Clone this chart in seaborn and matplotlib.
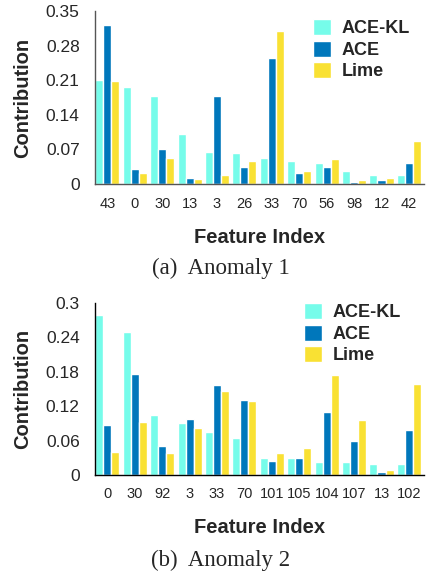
import matplotlib
matplotlib.use("Agg")
import matplotlib.pyplot as plt
import pandas as pd
import seaborn as sns

# Anomaly 1
features_a = ["43", "0", "30", "13", "3", "26", "33", "70", "56", "98", "12", "42"]
ace_kl_a = [0.210, 0.197, 0.178, 0.102, 0.065, 0.063, 0.053, 0.047, 0.043, 0.026, 0.018, 0.018]
ace_a = [0.322, 0.030, 0.071, 0.012, 0.179, 0.035, 0.255, 0.022, 0.035, 0.004, 0.008, 0.043]
lime_a = [0.208, 0.022, 0.052, 0.010, 0.018, 0.047, 0.310, 0.026, 0.051, 0.008, 0.012, 0.088]

# Anomaly 2
features_b = ["0", "30", "92", "3", "33", "70", "101", "105", "104", "107", "13", "102"]
ace_kl_b = [0.279, 0.249, 0.104, 0.090, 0.075, 0.064, 0.030, 0.030, 0.023, 0.023, 0.019, 0.019]
ace_b = [0.087, 0.176, 0.050, 0.097, 0.157, 0.131, 0.024, 0.030, 0.110, 0.059, 0.005, 0.078]
lime_b = [0.040, 0.092, 0.038, 0.082, 0.146, 0.129, 0.038, 0.047, 0.174, 0.096, 0.009, 0.158]

methods = ["ACE-KL", "ACE", "Lime"]
colors = ["#76FCEA", "#0077BB", "#F9E133"]

sns.set_theme(style="white")
plt.rcParams['font.family'] = ['Liberation Sans', 'DejaVu Sans']


def long_df(features, kl, ace, lime):
    rows = []
    for m, vals in zip(methods, [kl, ace, lime]):
        for f, v in zip(features, vals):
            rows.append({"feature": f, "method": m, "value": v})
    return pd.DataFrame(rows)


def draw(ax, df, order, yticks, ylim, spine_color, legend_anchor, fig):
    sns.barplot(data=df, x="feature", y="value", hue="method", order=order,
                hue_order=methods, palette=colors, width=0.88, gap=0,
                saturation=1, ax=ax, legend=True)
    ax.set_xlim(-0.45, 11.55)
    ax.set_ylim(*ylim)
    ax.set_yticks(yticks)
    ax.set_yticklabels([f"{t:g}" for t in yticks], fontsize=12.5)
    ax.tick_params(axis="x", labelsize=10.5, length=0, pad=9)
    ax.tick_params(axis="y", length=0, pad=11)
    for s in ["top", "right"]:
        ax.spines[s].set_visible(False)
    for s in ["left", "bottom"]:
        ax.spines[s].set_color(spine_color)
        ax.spines[s].set_linewidth(1.0)
    ax.set_ylabel("Contribution", fontsize=14.5, fontweight="bold")
    ax.yaxis.set_label_coords(-0.19, 0.5)
    ax.set_xlabel("Feature Index", fontsize=14.5, fontweight="bold")
    ax.xaxis.set_label_coords(0.5, -0.252)
    handles, labels = ax.get_legend_handles_labels()
    ax.legend(handles, labels, loc="upper left", bbox_to_anchor=legend_anchor,
              bbox_transform=fig.transFigure, frameon=False, borderpad=0,
              borderaxespad=0, handlelength=1.0, handleheight=1.0,
              labelspacing=0.18, handletextpad=0.6,
              prop={"size": 13, "weight": "bold"})


W, H = 426, 581
fig = plt.figure(figsize=(W / 100, H / 100), dpi=100)

ax1 = fig.add_axes([95 / W, (H - 184) / H, 329 / W, 173 / H])
df_a = long_df(features_a, ace_kl_a, ace_a, lime_a)
draw(ax1, df_a, features_a, [0, 0.07, 0.14, 0.21, 0.28, 0.35], (0, 0.35),
     "#555555", (313 / W, 1 - 19 / H), fig)

ax2 = fig.add_axes([95 / W, (H - 475) / H, 329 / W, 172 / H])
df_b = long_df(features_b, ace_kl_b, ace_b, lime_b)
draw(ax2, df_b, features_b, [0, 0.06, 0.12, 0.18, 0.24, 0.3], (0, 0.3),
     "#000000", (304 / W, 1 - 303 / H), fig)

fig.text(221 / W, 1 - 268 / H, "(a)  Anomaly 1", ha="center", va="center",
         fontsize=16.5, family="Liberation Serif")
fig.text(221 / W, 1 - 560 / H, "(b)  Anomaly 2", ha="center", va="center",
         fontsize=16.5, family="Liberation Serif")

fig.savefig("out.png", dpi=100)
